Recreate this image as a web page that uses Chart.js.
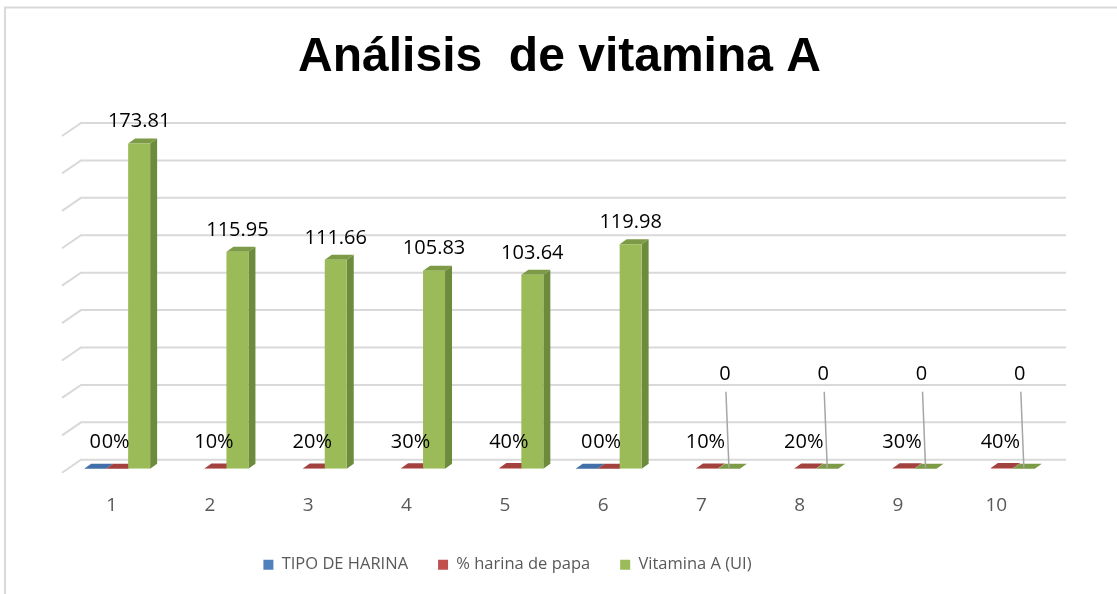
<!DOCTYPE html>
<html>
<head>
<meta charset="utf-8">
<script src="https://cdn.jsdelivr.net/npm/chart.js@4.4.1/dist/chart.umd.min.js"></script>
<style>
html,body{margin:0;padding:0;background:#ffffff;}
#wrap{width:1117px;height:594px;position:relative;}
canvas{display:block;}
</style>
</head>
<body>
<div id="wrap"><canvas id="c" width="1117" height="594"></canvas></div>
<script>
// ---- data ----
const categories = ['1', '2', '3', '4', '5', '6', '7', '8', '9', '10'];
const tipoHarina = [0, null, null, null, null, 0, null, null, null, null];
const harinaPapa = [0, 0.1, 0.2, 0.3, 0.4, 0, 0.1, 0.2, 0.3, 0.4];
const vitaminaA = [173.81, 115.95, 111.66, 105.83, 103.64, 119.98, 0, 0, 0, 0];
const yTicks = [0, 20, 40, 60, 80, 100, 120, 140, 160, 180];
const seriesNames = ['TIPO DE HARINA', '% harina de papa', 'Vitamina A (UI)'];

// ---- styles ----
const FRONT = ['#4f81bd', '#c0504d', '#9bbb59'];
const SIDE = ['#3b6496', '#983c3a', '#6d8b3c'];
const TOP = ['#426fa8', '#a3413e', '#7d9a47'];
const DEPTH_X = 7, DEPTH_Y = 5;

const framePlugin = {
  id: 'frame',
  beforeDraw(chart) {
    const ctx = chart.ctx;
    ctx.save();
    ctx.strokeStyle = '#d9d9d9';
    ctx.lineWidth = 2;
    ctx.beginPath();
    ctx.moveTo(5, 594);
    ctx.lineTo(5, 7.5);
    ctx.lineTo(1117, 7.5);
    ctx.stroke();
    ctx.restore();
  }
};

const grid3d = {
  id: 'grid3d',
  beforeDatasetsDraw(chart) {
    const ctx = chart.ctx, ys = chart.scales.y, a = chart.chartArea;
    ctx.save();
    ctx.strokeStyle = '#d9d9d9';
    ctx.lineWidth = 2;
    yTicks.forEach(v => {
      const py = ys.getPixelForValue(v);
      ctx.beginPath();
      ctx.moveTo(a.left - 6, py + 4);
      ctx.lineTo(a.left + 13, py - 9);
      ctx.lineTo(a.right + 15, py - 9);
      ctx.stroke();
    });
    ctx.restore();
  }
};

const bar3d = {
  id: 'bar3d',
  beforeDatasetsDraw(chart) {
    const ctx = chart.ctx;
    ctx.save();
    chart.data.datasets.forEach((ds, di) => {
      const meta = chart.getDatasetMeta(di);
      meta.data.forEach((el, i) => {
        if (ds.data[i] === null || ds.data[i] === undefined) return;
        const p = el.getProps(['x', 'y', 'base', 'width'], true);
        const l = p.x - p.width / 2, r = p.x + p.width / 2;
        const top = Math.min(p.y, p.base), bot = Math.max(p.y, p.base);
        if (bot - top > 0.5) {
          ctx.fillStyle = SIDE[di];
          ctx.beginPath();
          ctx.moveTo(r, top);
          ctx.lineTo(r + DEPTH_X, top - DEPTH_Y);
          ctx.lineTo(r + DEPTH_X, bot - DEPTH_Y);
          ctx.lineTo(r, bot);
          ctx.closePath();
          ctx.fill();
        }
        ctx.fillStyle = TOP[di];
        ctx.beginPath();
        ctx.moveTo(l, top);
        ctx.lineTo(r, top);
        ctx.lineTo(r + DEPTH_X, top - DEPTH_Y);
        ctx.lineTo(l + DEPTH_X, top - DEPTH_Y);
        ctx.closePath();
        ctx.fill();
      });
    });
    ctx.restore();
  }
};

const labelPlugin = {
  id: 'valueLabels',
  afterDatasetsDraw(chart) {
    const ctx = chart.ctx;
    ctx.save();
    ctx.font = '20px "Open Sans"';
    ctx.fillStyle = '#000000';
    ctx.textAlign = 'center';
    ctx.textBaseline = 'middle';
    chart.data.datasets.forEach((ds, di) => {
      const meta = chart.getDatasetMeta(di);
      meta.data.forEach((el, i) => {
        const v = ds.data[i];
        if (v === null || v === undefined) return;
        const p = el.getProps(['x', 'y', 'base'], true);
        if (di === 0) {
          ctx.fillText(String(v), p.x, p.base - 26);
        } else if (di === 1) {
          ctx.fillText(Math.round(v * 100) + '%', p.x - 1.5, p.base - 26);
        } else {
          if (v === 0) {
            ctx.save();
            ctx.strokeStyle = '#a6a6a6';
            ctx.lineWidth = 1.5;
            ctx.beginPath();
            ctx.moveTo(p.x - 3, p.base - 77);
            ctx.lineTo(p.x, p.base - 1);
            ctx.stroke();
            ctx.restore();
            ctx.fillText('0', p.x - 4, p.base - 94);
          } else {
            ctx.fillText(v.toFixed(2), p.x, p.y - 22);
          }
        }
      });
    });
    ctx.restore();
  }
};

const legendShift = {
  id: 'legendShift',
  afterLayout(chart) {
    if (chart.legend) {
      chart.legend.right -= 104;
    }
  }
};

new Chart(document.getElementById('c'), {
  type: 'bar',
  data: {
    labels: categories,
    datasets: [
      { label: seriesNames[0], data: tipoHarina, backgroundColor: FRONT[0] },
      { label: seriesNames[1], data: harinaPapa, backgroundColor: FRONT[1] },
      { label: seriesNames[2], data: vitaminaA, backgroundColor: FRONT[2] }
    ]
  },
  options: {
    responsive: false,
    animation: false,
    devicePixelRatio: 1,
    datasets: { bar: { categoryPercentage: 0.671, barPercentage: 1.0, borderWidth: 0 } },
    layout: { padding: { left: 68, right: 66, top: 0, bottom: 11 } },
    plugins: {
      title: {
        display: true,
        text: 'Análisis  de vitamina A',
        color: '#000000',
        font: { family: '"Liberation Sans", Arial, sans-serif', size: 48, weight: 'bold', lineHeight: 1.2 },
        padding: { top: 28.5, bottom: 45.9 }
      },
      legend: {
        display: true,
        position: 'bottom',
        labels: {
          boxWidth: 10,
          boxHeight: 10,
          padding: 30,
          color: '#595959',
          font: { family: '"Open Sans", sans-serif', size: 16.5 }
        }
      },
      tooltip: { enabled: false }
    },
    scales: {
      x: {
        grid: { display: false, drawTicks: false },
        border: { display: false },
        ticks: {
          color: '#595959',
          font: { family: '"Open Sans", sans-serif', size: 19, lineHeight: 1.2 },
          padding: 25.6,
          labelOffset: -5.5,
          maxRotation: 0
        },
        afterFit(scale) { scale.height = 57.75; }
      },
      y: {
        display: false,
        min: 0,
        max: 180,
        ticks: { stepSize: 20 }
      }
    }
  },
  plugins: [framePlugin, grid3d, bar3d, labelPlugin, legendShift]
});
</script>
</body>
</html>
